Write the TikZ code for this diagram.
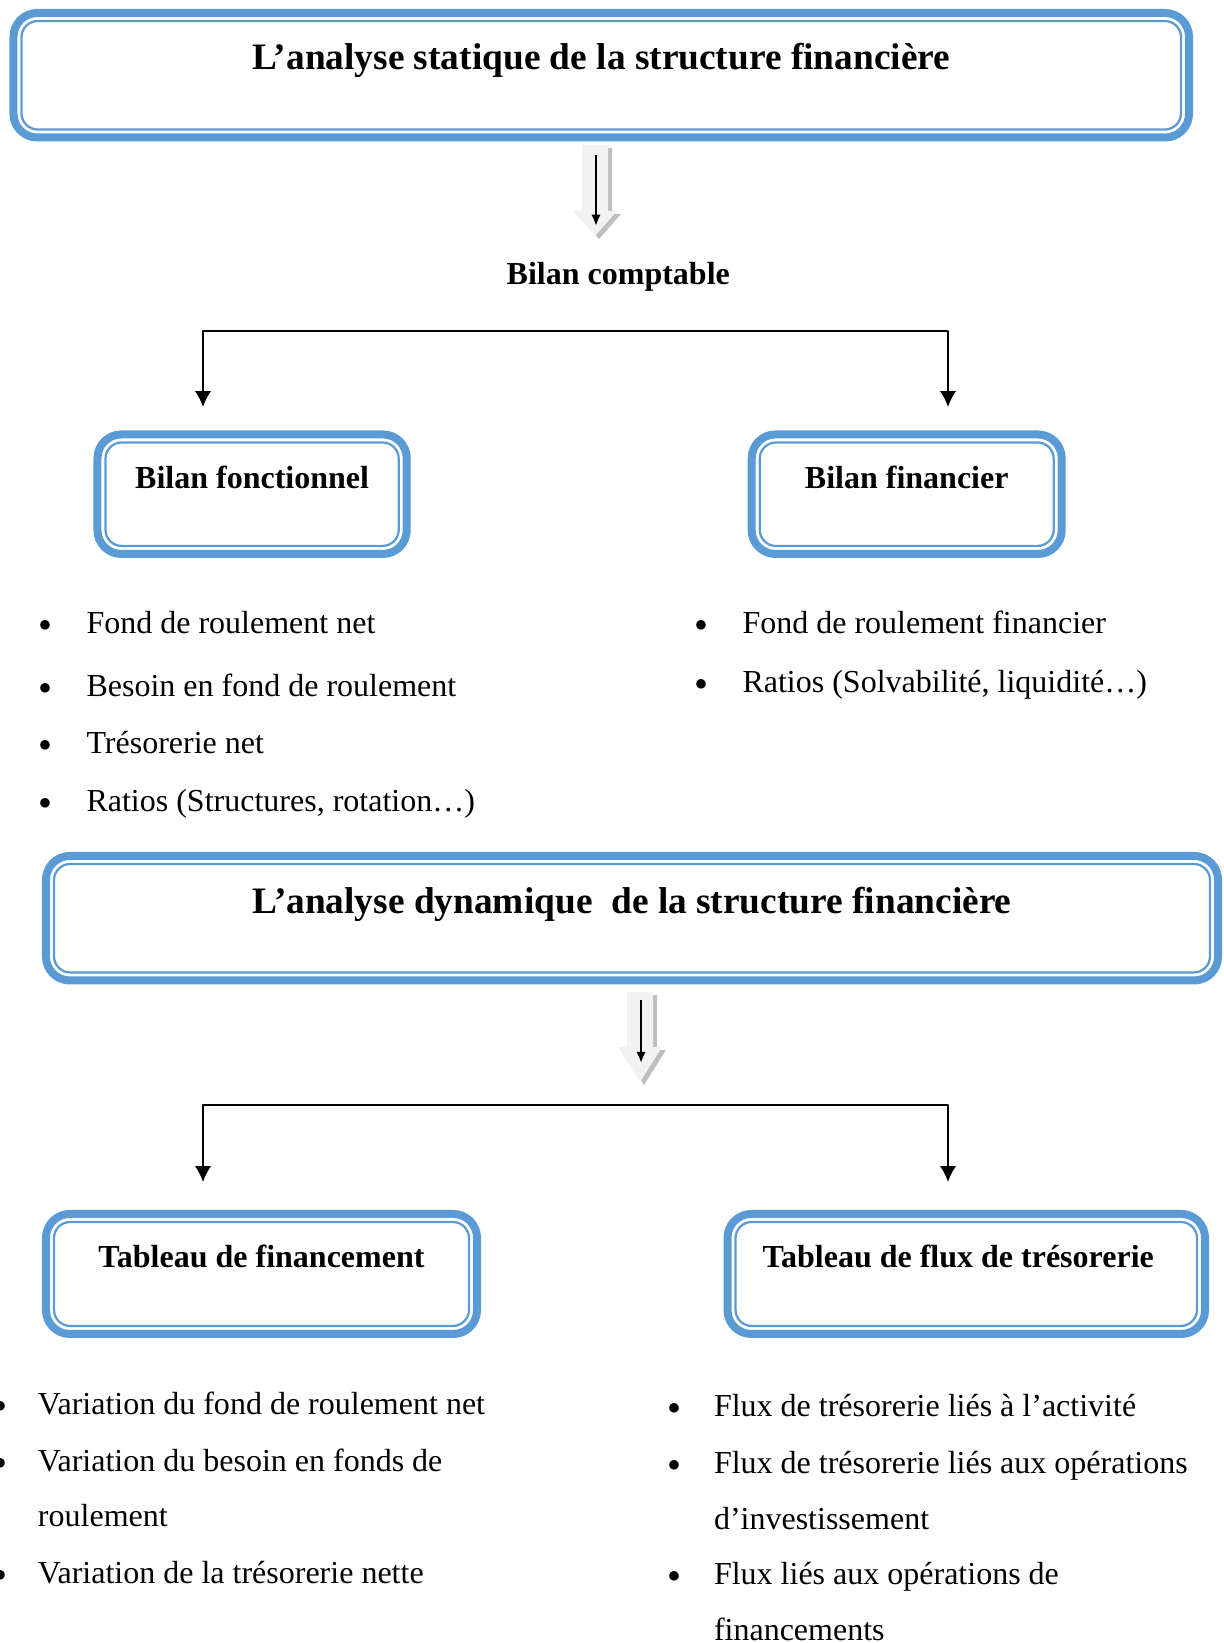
\documentclass[tikz,border=0pt]{standalone}
\usepackage{fontspec}
\setmainfont{Liberation Serif}
\usetikzlibrary{arrows.meta}
\definecolor{frameblue}{RGB}{91,155,213}
\definecolor{arrowfill}{RGB}{242,242,242}
\definecolor{arrowshade}{RGB}{190,190,190}
\begin{document}
\begin{tikzpicture}[x=0.4bp,y=-0.4bp,>={Latex[length=6.4bp,width=6.6bp]},line join=bevel,
  framebox/.style={draw=frameblue,line width=3.2bp,rounded corners=9.5bp,inner sep=0pt,outer sep=0pt,
    anchor=base,font=\fontsize{12.85}{15}\selectfont\bfseries,text height=21.7bp,text depth=26.1bp},
  headbox/.style={framebox,font=\fontsize{15}{18}\selectfont\bfseries},
  innerframe/.style={draw=frameblue,line width=0.9bp,rounded corners=6.5bp},
  link/.style={black,line width=0.8bp},
  flowarrow/.style={black,line width=1.1bp,-{Latex[length=4.5bp,width=3.8bp]}},
  itemtext/.style={anchor=base west,inner sep=0pt,font=\fontsize{12.85}{15}\selectfont},
  bulletmark/.style={anchor=base,inner sep=0pt,yshift=-2.1bp,font=\fontsize{16}{18}\selectfont},
]
\useasboundingbox (0,0) rectangle (1223,1643);
%%
\node (box_static) at (601.25,70) [headbox,minimum width=470.2bp,text height=22.8bp,text depth=27bp] {L’analyse statique de la structure financière};
\node (bilan_c) at (618.3,285) [anchor=base,inner sep=0pt,font=\fontsize{12.85}{15}\selectfont\bfseries] {Bilan comptable};
\node (box_fonc) at (252.1,488.7) [framebox,minimum width=123.7bp] {Bilan fonctionnel};
\node (box_fin) at (906.7,488.7) [framebox,minimum width=124bp] {Bilan financier};
\node (box_dyn) at (632,913.7) [headbox,minimum width=468.8bp,text height=23.1bp,text depth=26.7bp] {L’analyse dynamique~ de la structure financière};
\node (box_tfin) at (261.5,1267.7) [framebox,minimum width=172.4bp,text height=21.5bp,text depth=26.5bp] {Tableau de financement};
\node (box_tflux) at (966.25,1267.7) [framebox,minimum width=191bp,text height=21.5bp,text depth=26.5bp] {Tableau de flux de trésorerie\hspace*{6.4bp}};
\foreach \b in {box_static,box_fonc,box_fin,box_dyn,box_tfin,box_tflux}
  \draw[innerframe] ([shift={(3.2bp,3.2bp)}]\b.south west) rectangle ([shift={(-3.2bp,-3.2bp)}]\b.north east);
%
\foreach \ax/\ay/\hb/\tp in {595/145/211/236,640/992/1047/1082}{
  \fill[arrowshade] ({\ax-9},{\ay+3}) -- ({\ax+17},{\ay+3}) -- ({\ax+17},{\hb+3}) -- ({\ax+26},{\hb+3}) -- ({\ax+4},{\tp+3}) -- ({\ax-18},{\hb+3}) -- ({\ax-9},{\hb+3}) -- cycle;
  \fill[arrowfill] ({\ax-13},\ay) -- ({\ax+13},\ay) -- ({\ax+13},\hb) -- ({\ax+22},\hb) -- (\ax,\tp) -- ({\ax-22},\hb) -- ({\ax-13},\hb) -- cycle;
}
\coordinate (flow_1a) at (596,155);
\coordinate (flow_1b) at (596,226);
\draw[flowarrow] (flow_1a) -- (flow_1b);
\coordinate (flow_2a) at (641,1000);
\coordinate (flow_2b) at (641,1063);
\draw[flowarrow] (flow_2a) -- (flow_2b);
%
\coordinate (fork_1) at (575,331);
\coordinate (end_1l) at (203,407);
\coordinate (end_1r) at (948,407);
\draw[link,->] (fork_1) -| (end_1l);
\draw[link,->] (fork_1) -| (end_1r);
\coordinate (fork_2) at (575,1104.6);
\coordinate (end_2l) at (203,1182);
\coordinate (end_2r) at (948,1182);
\draw[link,->] (fork_2) -| (end_2l);
\draw[link,->] (fork_2) -| (end_2r);
%
\foreach \n/\yy/\txt in {1/633.5/Fond de roulement net,2/696.4/Besoin en fond de roulement,3/753/Trésorerie net,4/811.7/{Ratios (Structures, rotation…)}}{
  \node (dot_l\n) at (45,\yy) [bulletmark] {\textbullet};
  \node (item_l\n) at (86,\yy) [itemtext] {\txt};
}
\foreach \n/\yy/\txt in {1/633.5/Fond de roulement financier,2/692/{Ratios (Solvabilité, liquidité…)}}{
  \node (dot_r\n) at (701,\yy) [bulletmark] {\textbullet};
  \node (item_r\n) at (742,\yy) [itemtext] {\txt};
}
\foreach \n/\yy/\txt in {1/1414/Variation du fond de roulement net,2/1471.5/Variation du besoin en fonds de,3/1583/Variation de la trésorerie nette}{
  \node (dot_bl\n) at (0,\yy) [bulletmark] {\textbullet};
  \node (item_bl\n) at (37.5,\yy) [itemtext] {\txt};
}
\node (item_bl2b) at (37.5,1526.5) [itemtext] {roulement};
\foreach \n/\yy/\txt in {1/1416/Flux de trésorerie liés à l’activité,2/1473/Flux de trésorerie liés aux opérations,3/1584.5/Flux liés aux opérations de}{
  \node (dot_br\n) at (674.5,\yy) [bulletmark] {\textbullet};
  \node (item_br\n) at (713.5,\yy) [itemtext] {\txt};
}
\node (item_br2b) at (713.5,1529.5) [itemtext] {d’investissement};
\node (item_br3b) at (713.5,1640) [itemtext] {financements};
%
\end{tikzpicture}
\end{document}
